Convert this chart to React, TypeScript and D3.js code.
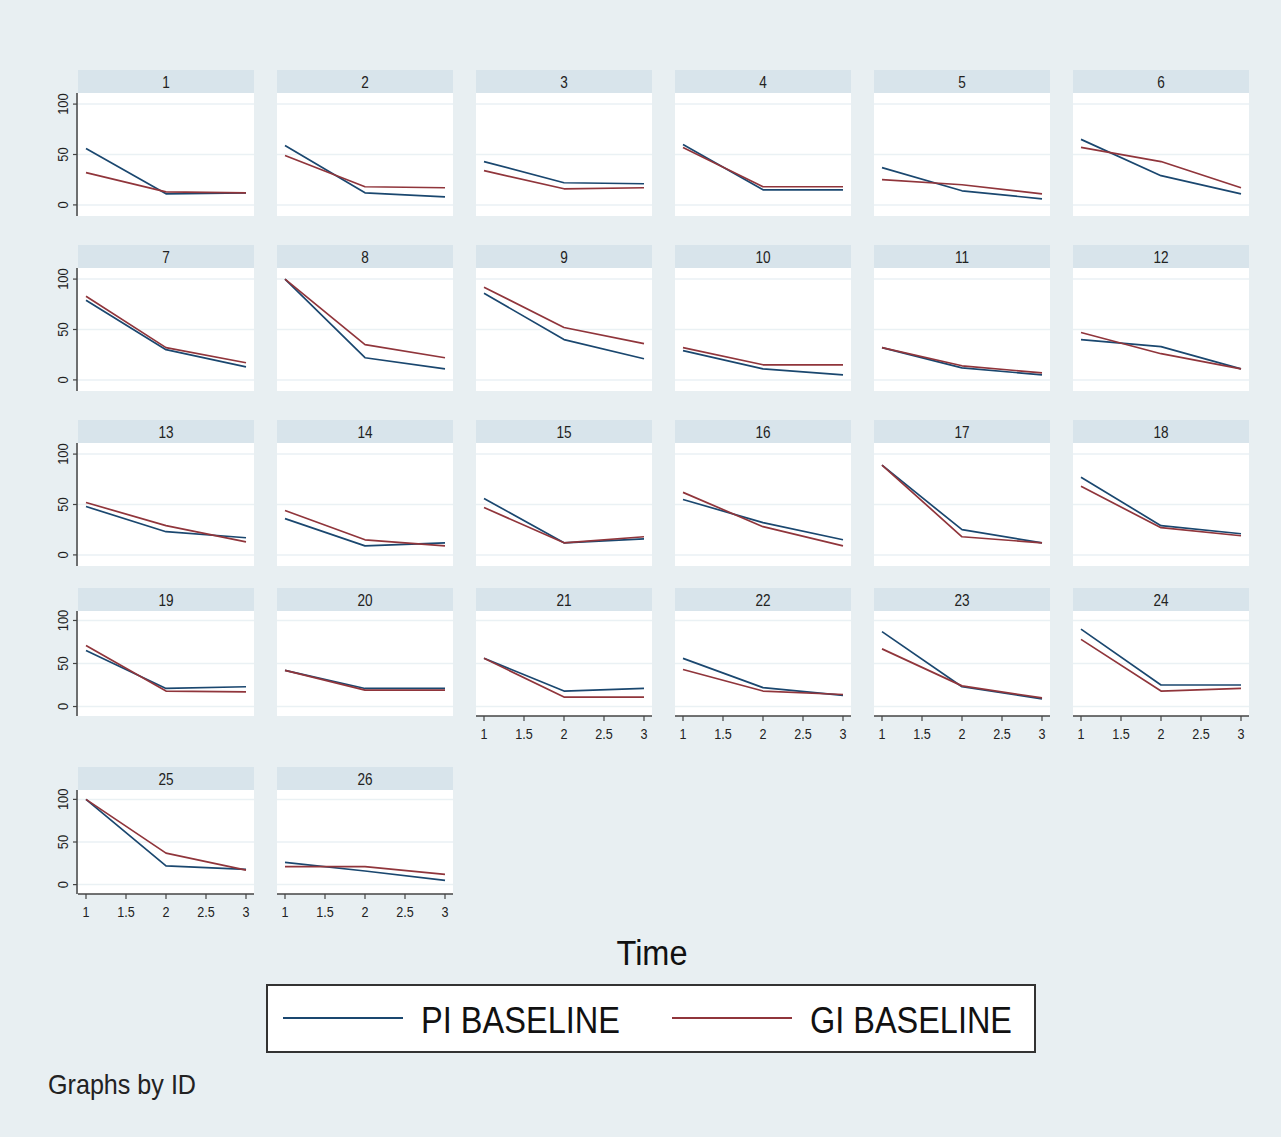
import React from "react";
import * as d3 from "d3";

// panel ids, in reading order (6 per row)
const ids = [
  1, 2, 3, 4, 5, 6, 7, 8, 9, 10, 11, 12, 13, 14, 15, 16, 17, 18, 19, 20, 21, 22, 23, 24, 25, 26,
];
const times = [1, 2, 3];

// PI BASELINE values per id at time 1, 2, 3
const piBaseline = [
  [56, 11, 12], [59, 12, 8], [43, 22, 21], [60, 15, 15], [37, 14, 6], [65, 29, 11],
  [79, 30, 13], [100, 22, 11], [86, 40, 21], [29, 11, 5], [32, 12, 5], [40, 33, 11],
  [48, 23, 17], [36, 9, 12], [56, 12, 16], [55, 32, 15], [89, 25, 12], [77, 29, 21],
  [65, 21, 23], [42, 21, 21], [56, 18, 21], [56, 22, 13], [87, 23, 9], [90, 25, 25],
  [100, 22, 18], [26, 16, 5],
];
// GI BASELINE values per id at time 1, 2, 3
const giBaseline = [
  [32, 13, 12], [49, 18, 17], [34, 16, 17], [57, 18, 18], [25, 20, 11], [57, 43, 17],
  [83, 32, 17], [100, 35, 22], [92, 52, 36], [32, 15, 15], [32, 14, 7], [47, 26, 11],
  [52, 29, 13], [44, 15, 9], [47, 12, 18], [62, 28, 9], [89, 18, 12], [68, 27, 19],
  [71, 18, 17], [42, 19, 19], [56, 11, 11], [43, 18, 14], [67, 24, 10], [78, 18, 21],
  [100, 37, 17], [21, 21, 12],
];
const yTicks = [0, 50, 100];
const xTicks = [1, 1.5, 2, 2.5, 3];
const seriesNames = ["PI BASELINE", "GI BASELINE"];

const W = 1281;
const H = 1137;
const colLeft = [78, 277, 476, 675, 874, 1073];
const panelW = 176;
const rowTop = [70, 245, 420, 588, 767];
const headerH = 23;
const plotH = [123, 123, 123, 105, 104];
const colors = ["#1a476f", "#90353b"];
const bg = "#e8eff2";
const stripFill = "#d8e4eb";
const font = "'Liberation Sans', Arial, sans-serif";

const line = d3.line<[number, number]>();

function Panel({ i }: { i: number }) {
  const col = i % 6;
  const row = Math.floor(i / 6);
  const left = colLeft[col];
  const top = rowTop[row];
  const pTop = top + headerH;
  const pBot = pTop + plotH[row];
  const x = d3.scaleLinear().domain([0.9, 3.1]).range([left, left + panelW]);
  const y = d3.scaleLinear().domain([-11, 111]).range([pBot, pTop]);
  // x axis on the last panel of each column
  const showX = i + 6 >= ids.length;
  const showY = col === 0;
  const series = [piBaseline[i], giBaseline[i]];
  return (
    <g>
      <rect x={left} y={top} width={panelW} height={headerH} fill={stripFill} />
      <text
        transform={`translate(${left + panelW / 2},${top + headerH / 2 + 6}) scale(0.85,1)`}
        textAnchor="middle"
        fontSize={16}
        fontFamily={font}
        fill="#222"
      >
        {ids[i]}
      </text>
      <rect x={left} y={pTop} width={panelW} height={pBot - pTop} fill="#fff" />
      {yTicks.map((t) => (
        <line key={t} x1={left} x2={left + panelW} y1={y(t)} y2={y(t)} stroke="#eaf1f4" strokeWidth={1.5} />
      ))}
      {series.map((vals, s) => (
        <path
          key={s}
          d={line(vals.map((v, k) => [x(times[k]), y(v)]) as [number, number][]) || ""}
          fill="none"
          stroke={colors[s]}
          strokeWidth={1.7}
          strokeLinejoin="round"
        />
      ))}
      {showY && (
        <g>
          <line x1={left - 1} x2={left - 1} y1={pTop} y2={pBot} stroke="#444" strokeWidth={1.5} />
          {yTicks.map((t) => (
            <g key={t}>
              <line x1={left - 5} x2={left - 1} y1={y(t)} y2={y(t)} stroke="#444" strokeWidth={1.2} />
              <text
                transform={`translate(${left - 10},${y(t)}) rotate(-90) scale(0.92,1)`}
                textAnchor="middle"
                fontSize={14}
                fontFamily={font}
                fill="#222"
              >
                {t}
              </text>
            </g>
          ))}
        </g>
      )}
      {showX && (
        <g>
          <line x1={left} x2={left + panelW} y1={pBot} y2={pBot} stroke="#444" strokeWidth={1.5} />
          {xTicks.map((t) => (
            <g key={t}>
              <line x1={x(t)} x2={x(t)} y1={pBot} y2={pBot + 5} stroke="#444" strokeWidth={1.2} />
              <text
                transform={`translate(${x(t)},${pBot + 23}) scale(0.9,1)`}
                textAnchor="middle"
                fontSize={14}
                fontFamily={font}
                fill="#222"
              >
                {t}
              </text>
            </g>
          ))}
        </g>
      )}
    </g>
  );
}

export default function App() {
  return (
    <div style={{ position: "absolute", left: 0, top: 0 }}>
      <svg width={W} height={H} style={{ display: "block" }}>
        <rect width={W} height={H} fill={bg} />
        {ids.map((_, i) => (
          <Panel key={i} i={i} />
        ))}
        <text x={652} y={965} textAnchor="middle" fontSize={35} fontFamily={font} fill="#111"
          textLength={71} lengthAdjust="spacingAndGlyphs">
          Time
        </text>
        <rect x={267} y={985} width={768} height={67} fill="#fff" stroke="#333" strokeWidth={2} />
        {seriesNames.map((name, s) => {
          const lx = s === 0 ? 283 : 672;
          return (
            <g key={name}>
              <line x1={lx} x2={lx + 120} y1={1018} y2={1018} stroke={colors[s]} strokeWidth={2.2} />
              <text x={lx + 138} y={1033} fontSize={36} fontFamily={font} fill="#111"
                textLength={s === 0 ? 199 : 202} lengthAdjust="spacingAndGlyphs">
                {name}
              </text>
            </g>
          );
        })}
        <text x={48} y={1094} fontSize={28} fontFamily={font} fill="#222"
          textLength={148} lengthAdjust="spacingAndGlyphs">
          Graphs by ID
        </text>
      </svg>
    </div>
  );
}
